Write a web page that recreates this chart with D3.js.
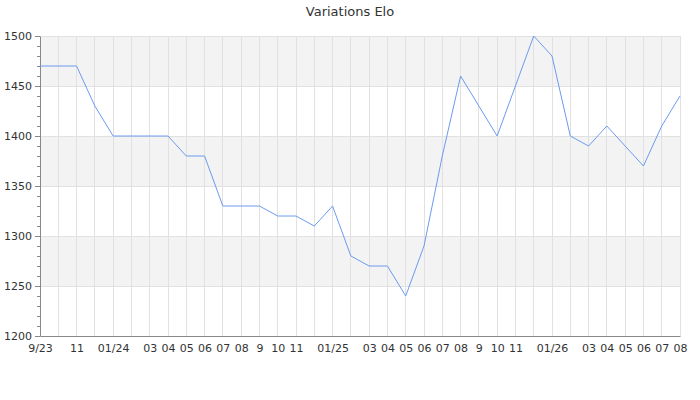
<!DOCTYPE html>
<html>
<head>
<meta charset="utf-8">
<script src="https://cdn.jsdelivr.net/npm/d3@7"></script>
<style>
  body { margin: 0; background: #fff; }
  svg { font-family: "DejaVu Sans", sans-serif; }
</style>
</head>
<body>
<div id="chart"></div>
<script>
// one point per month, Sep 2023 -> Aug 2026
const months = [
  "2023-09", "2023-10", "2023-11", "2023-12",
  "2024-01", "2024-02", "2024-03", "2024-04", "2024-05", "2024-06",
  "2024-07", "2024-08", "2024-09", "2024-10", "2024-11", "2024-12",
  "2025-01", "2025-02", "2025-03", "2025-04", "2025-05", "2025-06",
  "2025-07", "2025-08", "2025-09", "2025-10", "2025-11", "2025-12",
  "2026-01", "2026-02", "2026-03", "2026-04", "2026-05", "2026-06",
  "2026-07", "2026-08"
];
const elo = [
  1470, 1470, 1470, 1430,
  1400, 1400, 1400, 1400, 1380, 1380,
  1330, 1330, 1330, 1320, 1320, 1310,
  1330, 1280, 1270, 1270, 1240, 1290,
  1380, 1460, 1430, 1400, 1450, 1500,
  1480, 1400, 1390, 1410, 1390, 1370,
  1410, 1440
];
// labels shown under the month ticks (blank = skipped)
const month_labels = [
  "9/23", "", "11", "",
  "01/24", "", "03", "04", "05", "06",
  "07", "08", "9", "10", "11", "",
  "01/25", "", "03", "04", "05", "06",
  "07", "08", "9", "10", "11", "",
  "01/26", "", "03", "04", "05", "06",
  "07", "08"
];
const y_ticks = [1200, 1250, 1300, 1350, 1400, 1450, 1500];
const y_minor = d3.range(1200, 1501, 10);
const y_bands = [[1250, 1300], [1350, 1400], [1450, 1500]];
const title = "Variations Elo";

const width = 700, height = 400;
const margin = {top: 36, right: 20, bottom: 64, left: 40};

const svg = d3.select("#chart").append("svg")
    .attr("width", width)
    .attr("height", height);

const x = d3.scalePoint()
    .domain(months)
    .range([margin.left, width - margin.right]);
const y = d3.scaleLinear()
    .domain([1200, 1500])
    .range([height - margin.bottom, margin.top]);

// grey bands
svg.append("g").selectAll("rect")
  .data(y_bands)
  .enter().append("rect")
    .attr("x", margin.left)
    .attr("width", width - margin.right - margin.left)
    .attr("y", function(d) { return y(d[1]); })
    .attr("height", function(d) { return y(d[0]) - y(d[1]); })
    .attr("fill", "#f3f3f3");

// vertical grid, one line per month
svg.append("g").selectAll("line")
  .data(months.slice(1))
  .enter().append("line")
    .attr("x1", function(d) { return x(d); })
    .attr("x2", function(d) { return x(d); })
    .attr("y1", margin.top)
    .attr("y2", height - margin.bottom)
    .attr("stroke", "#e1e1e1")
    .attr("stroke-width", 1)
    .attr("shape-rendering", "crispEdges");

// horizontal grid
svg.append("g").selectAll("line")
  .data(y_ticks.slice(1))
  .enter().append("line")
    .attr("x1", margin.left)
    .attr("x2", width - margin.right)
    .attr("y1", function(d) { return y(d); })
    .attr("y2", function(d) { return y(d); })
    .attr("stroke", "#e1e1e1")
    .attr("shape-rendering", "crispEdges");

// y axis: minor ticks then labelled ticks
const y_minor_axis = svg.append("g")
    .attr("transform", "translate(" + margin.left + ",0)")
    .call(d3.axisLeft(y).tickValues(y_minor).tickSize(3).tickFormat(""));
y_minor_axis.select(".domain").remove();
y_minor_axis.selectAll("line").attr("stroke", "#888");

const y_axis = svg.append("g")
    .attr("transform", "translate(" + margin.left + ",0)")
    .call(d3.axisLeft(y).tickValues(y_ticks).tickSize(5).tickSizeOuter(0)
      .tickPadding(3).tickFormat(d3.format("d")));
y_axis.select(".domain").attr("stroke", "#888");
y_axis.selectAll("line").attr("stroke", "#888");
y_axis.selectAll("text")
    .attr("font-family", "DejaVu Sans")
    .attr("font-size", 11)
    .attr("fill", "#333");

// x axis
const x_axis = svg.append("g")
    .attr("transform", "translate(0," + (height - margin.bottom) + ")")
    .call(d3.axisBottom(x).tickSize(0).tickSizeOuter(0).tickPadding(8)
      .tickFormat(function(d, i) { return month_labels[i]; }));
x_axis.select(".domain").attr("stroke", "#888");
x_axis.selectAll("text")
    .attr("font-family", "DejaVu Sans")
    .attr("font-size", 11)
    .attr("fill", "#333");

// the line
const line = d3.line()
    .x(function(d, i) { return x(months[i]); })
    .y(function(d) { return y(d); });

svg.append("path")
    .datum(elo)
    .attr("fill", "none")
    .attr("stroke", "#6a9bef")
    .attr("stroke-width", 1)
    .attr("d", line);

// title
svg.append("text")
    .attr("x", width / 2)
    .attr("y", 16)
    .attr("text-anchor", "middle")
    .attr("font-family", "DejaVu Sans")
    .attr("font-size", 13)
    .attr("fill", "#333")
    .text(title);
</script>
</body>
</html>
